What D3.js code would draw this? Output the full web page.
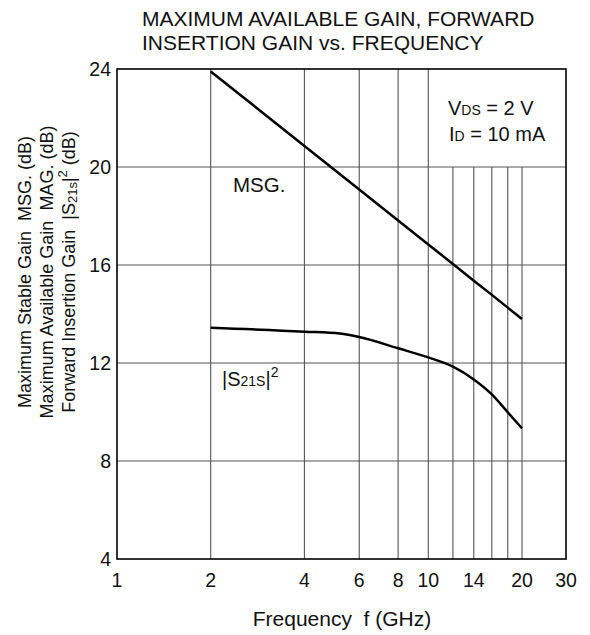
<!DOCTYPE html>
<html>
<head>
<meta charset="utf-8">
<script src="https://cdn.jsdelivr.net/npm/d3@7/dist/d3.min.js"></script>
<style>
  html, body { margin: 0; padding: 0; background: #fff; }
  svg { display: block; }
  text { font-family: "Liberation Sans", Arial, Helvetica, sans-serif; fill: #111; }
</style>
</head>
<body>
<svg id="chart" width="590" height="635"></svg>
<script>
// ---- data ----
const msgFreq   = [2, 4, 6, 8, 10, 12, 14, 16, 18, 20];          // GHz
const msgGain   = [23.9, 20.86, 19.08, 17.82, 16.84, 16.04, 15.36, 14.78, 14.26, 13.8]; // dB
const s21Freq   = [2, 4, 5.2, 6, 8, 10, 12, 14, 16, 18, 20];
const s21Gain   = [13.44, 13.28, 13.2, 13.06, 12.6, 12.23, 11.85, 11.33, 10.72, 9.99, 9.33];
const xTicks    = [1, 2, 4, 6, 8, 10, 14, 20, 30];
const xGridFull = [2, 4, 6, 8, 10];
const xGridPart = [12, 14, 16, 18, 20];
const yTicks    = [4, 8, 12, 16, 20, 24];
const yGrid     = [8, 12, 16, 20];

// ---- layout ----
const L = 117, R = 566, T = 69, B = 559;
const W = R - L, H = B - T;
const svg = d3.select("#chart");
const g = svg.append("g").attr("transform", `translate(${L},${T})`);

// log-frequency axis (the chart's right edge is labelled 30)
const xs = d3.scaleLinear()
  .domain([0, Math.log10(20), Math.log10(30)])
  .range([0, 405, W]);
const x = f => xs(Math.log10(f));
const y = d3.scaleLinear().domain([4, 24]).range([H, 0]);

const gridColor = "#555";
g.selectAll(".hg").data(yGrid).enter().append("line")
  .attr("x1", 0).attr("x2", W)
  .attr("y1", d => y(d)).attr("y2", d => y(d))
  .attr("stroke", gridColor).attr("stroke-width", 1.1);
g.selectAll(".vg").data(xGridFull).enter().append("line")
  .attr("x1", d => x(d)).attr("x2", d => x(d))
  .attr("y1", 0).attr("y2", H)
  .attr("stroke", gridColor).attr("stroke-width", 1.1);
g.selectAll(".vg2").data(xGridPart).enter().append("line")
  .attr("x1", d => x(d)).attr("x2", d => x(d))
  .attr("y1", y(20)).attr("y2", H)
  .attr("stroke", gridColor).attr("stroke-width", 1.1);

g.append("rect").attr("x", 0).attr("y", 0).attr("width", W).attr("height", H)
  .attr("fill", "none").attr("stroke", "#000").attr("stroke-width", 1.6);

const lineStraight = d3.line().x(d => x(d[0])).y(d => y(d[1]));
const lineCurve = d3.line().x(d => x(d[0])).y(d => y(d[1])).curve(d3.curveMonotoneX);
g.append("path").datum(msgFreq.map((f, i) => [f, msgGain[i]]))
  .attr("d", lineStraight).attr("fill", "none").attr("stroke", "#000").attr("stroke-width", 2.5);
g.append("path").datum(s21Freq.map((f, i) => [f, s21Gain[i]]))
  .attr("d", lineCurve).attr("fill", "none").attr("stroke", "#000").attr("stroke-width", 2.5);

const tickFont = 19.5;
g.selectAll(".xt").data(xTicks).enter().append("text")
  .attr("x", d => x(d)).attr("y", H + 28)
  .attr("text-anchor", "middle").attr("font-size", tickFont)
  .text(d => d);
g.selectAll(".yt").data(yTicks).enter().append("text")
  .attr("x", -6).attr("y", d => y(d)).attr("dy", "0.35em")
  .attr("text-anchor", "end").attr("font-size", tickFont)
  .text(d => d);

const title = svg.append("text").attr("font-size", 21);
title.append("tspan").attr("x", 142).attr("y", 26).text("MAXIMUM AVAILABLE GAIN, FORWARD");
title.append("tspan").attr("x", 142).attr("y", 50).text("INSERTION GAIN vs. FREQUENCY");

svg.append("text").attr("x", 342).attr("y", 626).attr("text-anchor", "middle")
  .attr("font-size", 21).attr("xml:space", "preserve").text("Frequency  f (GHz)");

const yl = svg.append("g").attr("font-size", 18);
const ycy = 272;
function rot(xb) { return `translate(${xb},${ycy}) rotate(-90)`; }
yl.append("text").attr("transform", rot(31)).attr("text-anchor", "middle")
  .attr("xml:space", "preserve").text("Maximum Stable Gain  MSG. (dB)");
yl.append("text").attr("transform", rot(53)).attr("text-anchor", "middle")
  .attr("xml:space", "preserve").text("Maximum Available Gain  MAG. (dB)");
const y3 = yl.append("text").attr("transform", rot(75)).attr("text-anchor", "middle")
  .attr("xml:space", "preserve");
y3.append("tspan").text("Forward Insertion Gain  |S");
y3.append("tspan").attr("font-size", 13).attr("dy", 2).text("21s");
y3.append("tspan").attr("dy", -2).text("|");
y3.append("tspan").attr("font-size", 13).attr("dy", -8).text("2");
y3.append("tspan").attr("dy", 8).text(" (dB)");

svg.append("text").attr("x", 233).attr("y", 192).attr("font-size", 20.5).text("MSG.");
const s = svg.append("text").attr("x", 222).attr("y", 386).attr("font-size", 20);
s.append("tspan").text("|S");
s.append("tspan").attr("font-size", 14).text("21S");
s.append("tspan").text("|");
s.append("tspan").attr("font-size", 14).attr("dy", -9).text("2");

const v = svg.append("text").attr("x", 448).attr("y", 115).attr("font-size", 20);
v.append("tspan").text("V");
v.append("tspan").attr("font-size", 14).text("DS");
v.append("tspan").text(" = 2 V");
const id = svg.append("text").attr("x", 449).attr("y", 141).attr("font-size", 20);
id.append("tspan").text("I");
id.append("tspan").attr("font-size", 14).text("D");
id.append("tspan").text(" = 10 mA");
</script>
</body>
</html>
